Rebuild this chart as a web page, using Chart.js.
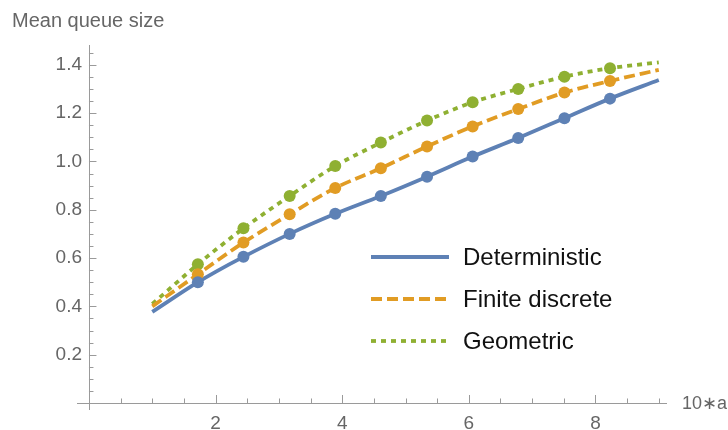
<!DOCTYPE html>
<html>
<head>
<meta charset="utf-8">
<script src="https://cdn.jsdelivr.net/npm/chart.js@4"></script>
<style>
    html, body { margin: 0; padding: 0; background: #fff; }
    #wrap { width: 728px; height: 430px; position: relative; }
</style>
</head>
<body>
<div id="wrap"><canvas id="queueChart"></canvas></div>
<script>
// sampled points (10*a, mean queue size)
const pointX = [1.72, 2.44, 3.17, 3.89, 4.61, 5.34, 6.06, 6.78, 7.51, 8.23];
const detPoints = [0.500, 0.605, 0.700, 0.783, 0.857, 0.937, 1.020, 1.097, 1.179, 1.260];
const finPoints = [0.533, 0.664, 0.781, 0.890, 0.972, 1.062, 1.145, 1.217, 1.285, 1.333];
const geoPoints = [0.574, 0.723, 0.857, 0.981, 1.078, 1.169, 1.245, 1.300, 1.351, 1.386];

// curves
const curveX = [1, 1.72, 2, 2.44, 3.17, 3.89, 4.61, 5.34, 6.06, 6.78, 7.51, 8.23, 9];
const detCurve = [0.377, 0.500, 0.543, 0.605, 0.700, 0.783, 0.857, 0.937, 1.020, 1.097, 1.179, 1.260, 1.337];
const finCurve = [0.400, 0.533, 0.585, 0.664, 0.781, 0.890, 0.972, 1.062, 1.145, 1.217, 1.285, 1.333, 1.379];
const geoCurve = [0.410, 0.574, 0.634, 0.723, 0.857, 0.981, 1.078, 1.169, 1.245, 1.300, 1.351, 1.386, 1.410];

const seriesNames = ["Deterministic", "Finite discrete", "Geometric"];
const colors = ["#5E81B5", "#E19C24", "#8FB032"];
const dashes = [[], [11, 5], [5, 5]];

const xTicks = [2, 4, 6, 8];
const yTicks = [0.2, 0.4, 0.6, 0.8, 1.0, 1.2, 1.4];

const fontFamily = "'Liberation Sans', Arial, sans-serif";
const axisColor = "#9a9a9a";
const labelColor = "#666666";

const toXY = (xs, ys) => xs.map((x, i) => ({ x, y: ys[i] }));

const curves = [detCurve, finCurve, geoCurve];
const points = [detPoints, finPoints, geoPoints];

const datasets = [];
curves.forEach((c, i) => {
    datasets.push({
        label: seriesNames[i],
        data: toXY(curveX, c),
        showLine: true,
        borderColor: colors[i],
        borderWidth: 3.8,
        borderDash: dashes[i],
        pointRadius: 0,
        cubicInterpolationMode: "monotone",
        order: 2
    });
});
points.forEach((p, i) => {
    datasets.push({
        label: seriesNames[i] + " points",
        data: toXY(pointX, p),
        showLine: false,
        backgroundColor: colors[i],
        borderWidth: 0,
        pointRadius: 6,
        order: 1
    });
});

const axesPlugin = {
    id: "mathAxes",
    beforeDatasetsDraw(chart) {
        const { ctx, chartArea, scales: { x, y } } = chart;
        const x0 = x.getPixelForValue(0);
        const y0 = y.getPixelForValue(0);
        ctx.save();
        ctx.strokeStyle = axisColor;
        ctx.lineWidth = 1;
        ctx.beginPath();
        ctx.moveTo(chartArea.left - 5, Math.round(y0) + 0.5);
        ctx.lineTo(chartArea.right, Math.round(y0) + 0.5);
        ctx.moveTo(Math.round(x0) + 0.5, chartArea.top);
        ctx.lineTo(Math.round(x0) + 0.5, chartArea.bottom);
        // x ticks every 0.5, major every 2
        for (let k = 1; k <= 18; k++) {
            const px = Math.round(x.getPixelForValue(k * 0.5)) + 0.5;
            const len = k % 4 === 0 ? 8 : 4.5;
            ctx.moveTo(px, y0);
            ctx.lineTo(px, y0 - len);
        }
        // y ticks every 0.05, major every 0.2
        for (let k = 1; k <= 29; k++) {
            const py = Math.round(y.getPixelForValue(k * 0.05)) + 0.5;
            const len = k % 4 === 0 ? 7.5 : 4.5;
            ctx.moveTo(x0, py);
            ctx.lineTo(x0 + len, py);
        }
        ctx.stroke();

        ctx.fillStyle = labelColor;
        ctx.font = "20px " + fontFamily;
        ctx.textBaseline = "alphabetic";
        ctx.textAlign = "left";
        ctx.fillText("Mean queue size", 12, 27);
        ctx.font = "18px " + fontFamily;
        ctx.textBaseline = "middle";
        ctx.textAlign = "right";
        ctx.fillText("10\u2217a", 727, y0 + 1);
        ctx.restore();
    },
    afterDraw(chart) {
        const { ctx } = chart;
        const rows = [257, 299, 341];
        ctx.save();
        seriesNames.forEach((name, i) => {
            ctx.strokeStyle = colors[i];
            ctx.lineWidth = 3.8;
            ctx.setLineDash(dashes[i]);
            ctx.beginPath();
            ctx.moveTo(371, rows[i]);
            ctx.lineTo(449, rows[i]);
            ctx.stroke();
            ctx.setLineDash([]);
            ctx.fillStyle = "#111";
            ctx.font = "24px " + fontFamily;
            ctx.textAlign = "left";
            ctx.textBaseline = "middle";
            ctx.fillText(name, 463, rows[i] + 1);
        });
        ctx.restore();
    }
};

new Chart(document.getElementById("queueChart"), {
    type: "scatter",
    data: { datasets },
    options: {
        responsive: true,
        maintainAspectRatio: false,
        animation: false,
        layout: { padding: { top: 45, right: 61, left: 0, bottom: 0 } },
        plugins: {
            legend: { display: false },
            tooltip: { enabled: false }
        },
        scales: {
            x: {
                type: "linear",
                min: -0.11,
                max: 9.13,
                afterFit: s => { s.height = 20; },
                grid: { display: false, drawTicks: false },
                border: { display: false },
                afterBuildTicks: s => { s.ticks = xTicks.map(v => ({ value: v })); },
                ticks: {
                    padding: 2,
                    color: labelColor,
                    font: { size: 19, family: fontFamily },
                    maxRotation: 0,
                    autoSkip: false
                }
            },
            y: {
                type: "linear",
                min: -0.029,
                max: 1.482,
                afterFit: s => { s.width = 82; },
                grid: { display: false, drawTicks: false },
                border: { display: false },
                afterBuildTicks: s => { s.ticks = yTicks.map(v => ({ value: v })); },
                ticks: {
                    padding: 0,
                    color: labelColor,
                    font: { size: 19, family: fontFamily },
                    autoSkip: false,
                    callback: v => v.toFixed(1)
                }
            }
        }
    },
    plugins: [axesPlugin]
});
</script>
</body>
</html>
